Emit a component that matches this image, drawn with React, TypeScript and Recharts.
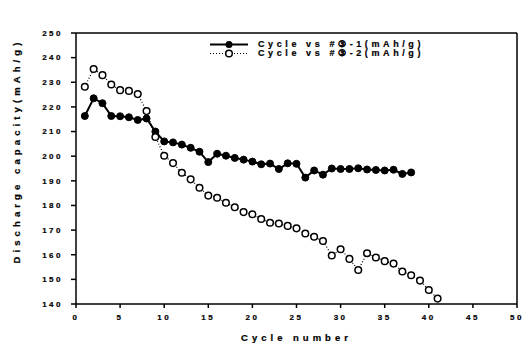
import React from "react";
import { LineChart, Line, XAxis, YAxis, Legend, ReferenceLine, Label } from "recharts";

const cycles = Array.from({ length: 41 }, (_, i) => i + 1);
const series1 = [
  216.3, 223.5, 221.5, 216.3, 216.2, 215.8, 214.7, 215.3, 210.0, 206.0,
  205.6, 204.7, 203.4, 201.8, 197.6, 201.0, 200.2, 199.3, 198.6, 197.8,
  196.7, 197.0, 194.8, 197.1, 196.9, 191.3, 194.2, 192.5, 195.0, 194.8,
  194.8, 195.1, 194.6, 194.4, 194.2, 194.5, 192.8, 193.4,
];
const series2 = [
  228.2, 235.4, 232.9, 229.1, 226.8, 226.5, 225.2, 218.3, 207.8, 200.2,
  197.2, 193.3, 190.6, 187.2, 184.0, 183.1, 181.1, 179.3, 177.3, 176.4,
  174.5, 173.0, 172.7, 171.7, 170.7, 168.6, 167.3, 165.6, 159.7, 162.2,
  158.3, 153.8, 160.6, 158.9, 157.4, 156.4, 153.2, 151.7, 149.5, 145.7,
  142.2,
];
const xTicks = [0, 5, 10, 15, 20, 25, 30, 35, 40, 45, 50];
const yTicks = [140, 150, 160, 170, 180, 190, 200, 210, 220, 230, 240, 250];
const name1 = "Cycle vs #③-1(mAh/g)";
const name2 = "Cycle vs #③-2(mAh/g)";
const xTitle = "Cycle number";
const yTitle = "Discharge capacity(mAh/g)";

const data = cycles.map((c, i) => ({
  cycle: c,
  s1: i < series1.length ? series1[i] : null,
  s2: i < series2.length ? series2[i] : null,
}));

const FONT = "'Liberation Sans', Arial, sans-serif";
const tickStyle = { fontFamily: FONT, fontSize: 8, fontWeight: 700, fill: "#000", letterSpacing: 2.5, stroke: "#000", strokeWidth: 0.2 };

const LegendContent = () => (
  <div style={{ fontFamily: FONT, fontSize: 9, fontWeight: 700, letterSpacing: 3.6, lineHeight: "9px", color: "#000", WebkitTextStroke: "0.2px #000" }}>
    <div style={{ display: "flex", alignItems: "center", height: 9 }}>
      <svg width={52} height={9}>
        <line x1={4} y1={4.5} x2={42} y2={4.5} stroke="#000" strokeWidth={2} />
        <circle cx={23} cy={4.5} r={3.5} fill="#000" />
      </svg>
      <span>{name1}</span>
    </div>
    <div style={{ display: "flex", alignItems: "center", height: 9 }}>
      <svg width={52} height={9}>
        <line x1={4} y1={4.5} x2={42} y2={4.5} stroke="#000" strokeWidth={1.2} strokeDasharray="1 2" />
        <circle cx={23} cy={4.5} r={3.3} fill="#fff" stroke="#000" strokeWidth={1.5} />
      </svg>
      <span>{name2}</span>
    </div>
  </div>
);

const YTitle = () => (
  <text
    x={16}
    y={151}
    transform="rotate(-90 16 151)"
    textAnchor="middle"
    dominantBaseline="central"
    style={{ fontFamily: FONT, fontSize: 9.5, fontWeight: 700, letterSpacing: 4.1, fill: "#000", stroke: "#000", strokeWidth: 0.2 }}
  >
    {yTitle}
  </text>
);

export default function App() {
  return (
    <div style={{ position: "absolute", left: 0, top: 0, width: 523, height: 344, background: "#fff" }}>
      <LineChart width={523} height={344} data={data} margin={{ top: 15, right: 6, left: 0, bottom: 0 }}>
        <XAxis
          dataKey="cycle"
          type="number"
          domain={[0, 50]}
          ticks={xTicks}
          interval={0}
          height={40}
          stroke="#000"
          strokeWidth={1.5}
          tickSize={4}
          tickMargin={6}
          tick={tickStyle}
          allowDataOverflow
        >
          <Label value={xTitle} position="insideBottom" offset={3}
            style={{ fontFamily: FONT, fontSize: 9.5, fontWeight: 700, letterSpacing: 4, fill: "#000", stroke: "#000", strokeWidth: 0.2 }} />
        </XAxis>
        <YAxis
          type="number"
          domain={[140, 250]}
          ticks={yTicks}
          interval={0}
          width={76}
          stroke="#000"
          strokeWidth={1.5}
          tickSize={5}
          tickMargin={8}
          tick={tickStyle}
          allowDataOverflow
        >
          <Label content={<YTitle />} />
        </YAxis>
        <ReferenceLine y={250} stroke="#000" strokeWidth={1.5} />
        <ReferenceLine x={50} stroke="#000" strokeWidth={1.5} />
        <Legend
          verticalAlign="top"
          content={<LegendContent />}
          wrapperStyle={{ position: "absolute", left: 206, top: 40, width: "auto" }}
        />
        <Line
          dataKey="s1"
          name={name1}
          stroke="#000"
          strokeWidth={2}
          dot={{ r: 3.5, fill: "#000", stroke: "#000", strokeWidth: 1 }}
          isAnimationActive={false}
          connectNulls={false}
        />
        <Line
          dataKey="s2"
          name={name2}
          stroke="#000"
          strokeWidth={1.2}
          strokeDasharray="1 2"
          dot={{ r: 3.3, fill: "#fff", stroke: "#000", strokeWidth: 1.5, strokeDasharray: "0" }}
          isAnimationActive={false}
          connectNulls={false}
        />
      </LineChart>
    </div>
  );
}
